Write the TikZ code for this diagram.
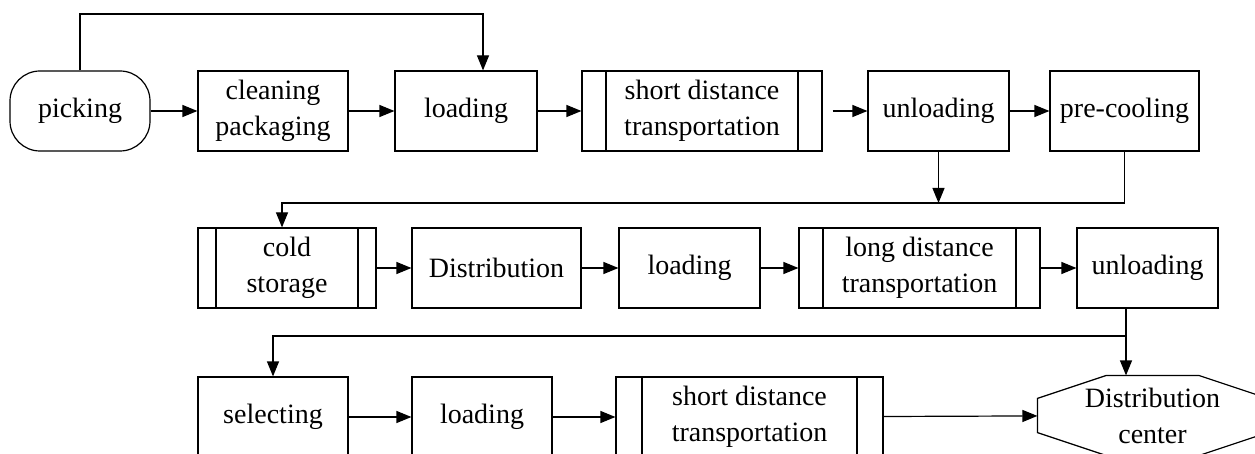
\documentclass[tikz,border=0pt]{standalone}
\usepackage{fontspec}
\setmainfont{Liberation Serif}
\usetikzlibrary{arrows.meta,calc}
\begin{document}
\begin{tikzpicture}[x=1pt,y=-1pt,line width=1.2pt,
  txt/.style={font=\fontsize{28}{36}\selectfont, align=center, inner sep=0pt},
  box/.style={txt, draw, rectangle, minimum height=80pt},
  term/.style={box, rounded corners=30pt},
  proc/.style={box, path picture={
      \draw ([xshift=#1]path picture bounding box.north west) -- ([xshift=#1]path picture bounding box.south west);
      \draw ([xshift=-#1]path picture bounding box.north east) -- ([xshift=-#1]path picture bounding box.south east);}},
  arr/.style={-{Triangle[length=15pt,width=12pt]}}]
\useasboundingbox (0,0) rectangle (1255,454);
% row 1
\node[term, minimum width=140pt] (pick) at (80,111) {picking};
\node[box, minimum width=150pt] (clean) at (273,111) {cleaning\\packaging};
\node[box, minimum width=142pt] (load1) at (466,111) {loading};
\node[proc=24pt, minimum width=240pt] (short1) at (702,111) {short distance\\transportation};
\node[box, minimum width=141pt] (unload1) at (938.5,111) {unloading};
\node[box, minimum width=149pt] (precool) at (1124.5,111) {pre-cooling};
% row 2
\node[proc=18pt, minimum width=178pt] (cold) at (287,268) {cold\\storage};
\node[box, minimum width=169pt] (distr) at (496.5,268) {Distribution};
\node[box, minimum width=141pt] (load2) at (689.5,268) {loading};
\node[proc=24pt, minimum width=241pt] (long) at (919.5,268) {long distance\\transportation};
\node[box, minimum width=141pt] (unload2) at (1147.5,268) {unloading};
% row 3
\node[box, minimum width=150pt] (select) at (273,417) {selecting};
\node[box, minimum width=140pt] (load3) at (482,417) {loading};
\node[proc=26pt, minimum width=267pt] (short2) at (749.5,417) {short distance\\transportation};
\node[txt, minimum width=229pt, minimum height=79pt] (oct) at (1152.5,415.5) {Distribution\\center};
\draw ($(oct.north west)+(69,0)$) -- ($(oct.north east)+(-69,0)$) -- ($(oct.north east)+(0,23)$)
  -- ($(oct.south east)+(0,-23)$) -- ($(oct.south east)+(-69,0)$) -- ($(oct.south west)+(69,0)$)
  -- ($(oct.south west)+(0,-23)$) -- ($(oct.north west)+(0,23)$) -- cycle;
% row arrows
\draw[arr] (pick) -- (clean);
\draw[arr] (clean) -- (load1);
\draw[arr] (load1) -- (short1);
\draw[arr, shorten <=10pt] (short1) -- (unload1);
\draw[arr] (unload1) -- (precool);
\draw[arr] (cold) -- (distr);
\draw[arr] (distr) -- (load2);
\draw[arr] (load2) -- (long);
\draw[arr] (long) -- (unload2);
\draw[arr] (select) -- (load3);
\draw[arr] (load3) -- (short2);
\draw[arr] (short2) -- (oct);
% loops
\coordinate (t1) at (483,14);
\draw[arr] (pick.north) |- (t1) -- (t1 |- load1.north);
\coordinate (j1) at (282,203);
\draw[arr] (unload1.south) -- (unload1.south |- j1);
\draw[arr] (precool.south) |- (j1) -- (j1 |- cold.north);
\coordinate (j3) at (1126,336);
\draw (j3 |- unload2.south) -- (j3);
\draw[arr] (j3) -- (j3 |- oct.north);
\draw[arr] (j3) -- (j3 -| select.north) -- (select.north);
\end{tikzpicture}
\end{document}
